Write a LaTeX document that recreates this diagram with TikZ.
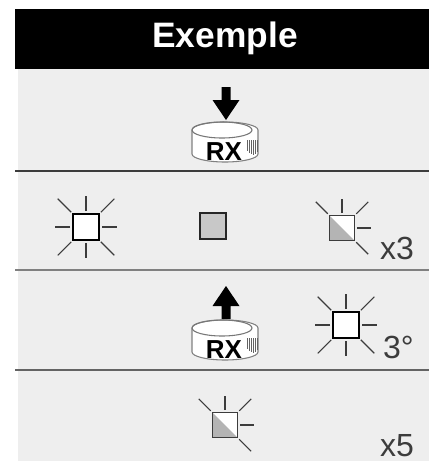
\documentclass[tikz,border=0pt]{standalone}
\usepackage{fontspec}
\setmainfont{Liberation Sans}
\usetikzlibrary{positioning}
\definecolor{rowgray}{HTML}{EEEEEE}
\definecolor{boxgray}{HTML}{C8C8C8}
\definecolor{halfgray}{HTML}{B4B4B4}
\definecolor{inkgray}{HTML}{3C3C3C}
\tikzstyle{every node}=[inner sep=0, minimum size=0, outer sep=0]
\tikzstyle{ray}=[inkgray, line width=.8pt]
\tikzstyle{fullbox}=[rectangle, draw=black, line width=1.3pt, fill=white, minimum size=20pt]
\tikzstyle{greybox}=[rectangle, draw=black!85, line width=1.3pt, fill=boxgray, minimum size=20pt]
\tikzstyle{halfbox}=[rectangle, draw=inkgray, line width=.9pt, minimum size=19pt]
\tikzstyle{counttext}=[anchor=base west, text=inkgray, font=\fontsize{24}{24}\selectfont]
\tikzstyle{rxtext}=[font=\fontsize{19.5}{19.5}\selectfont\bfseries]
\newcommand{\fulllamp}[2]{
  \node[fullbox] (#1) at (#2) {};
  \foreach \ang in {0,90,180,270} \draw[ray] (#1.center) ++(\ang:16) -- ++(\ang:15);
  \foreach \ang in {45,135,225,315} \draw[ray] (#1.center) ++(\ang:21) -- ++(\ang:19);
}
\newcommand{\halflamp}[2]{
  \node[halfbox] (#1) at (#2) {};
  \fill[white] (#1.north west) -- (#1.north east) -- (#1.south east) -- cycle;
  \fill[halfgray] (#1.north west) -- (#1.south west) -- (#1.south east) -- cycle;
  \node[halfbox] at (#2) {};
  \foreach \ang in {0,270} \draw[ray] (#1.center) ++(\ang:15) -- ++(\ang:14);
  \foreach \ang in {45,225,315} \draw[ray] (#1.center) ++(\ang:20) -- ++(\ang:17);
}
\newcommand{\rxdisc}[2]{
  \begin{scope}[shift={(#2)}]
    \draw[gray, line width=.8pt, fill=white] (-33,0) -- (-33,24) arc (180:0:33 and 8) -- (33,0) arc (0:-180:33 and 8);
    \draw[inkgray!70, line width=.8pt] (-33,0) arc (180:0:30 and 8) arc (0:-180:30 and 8);
    \foreach \xs/\ys in {22/21,24/23,26/24,28/25,30/24,32/22}
      \draw[inkgray!80, line width=.6pt] (\xs,10) -- (\xs,\ys);
    \node[rxtext] (#1) at (-1,22) {RX};
  \end{scope}
}
\newcommand{\bigarrow}[3]{
  \begin{scope}[shift={(#2)}, yscale=#3]
    \fill[black] (0,0) -- (-13.5,-20) -- (-4.5,-20) -- (-4.5,-33) -- (4.5,-33) -- (4.5,-20) -- (13.5,-20) -- cycle;
    \coordinate (#1) at (0,0);
  \end{scope}
}
\begin{document}
\begin{tikzpicture}[x=.75pt,y=-.75pt]
\useasboundingbox (0,0) rectangle (433,461);
\fill[rowgray] (18,69) rectangle (429,461);
\fill[black] (15,9) rectangle (429,69);
\node[text=white, font=\fontsize{26.5}{26.5}\selectfont\bfseries] (title) at (225,38) {Exemple};

\draw[inkgray, line width=.9pt] (15,171) -- (429,171);
\draw[gray, line width=1.3pt] (15,270) -- (429,270);
\draw[inkgray!80, line width=.9pt] (15,370) -- (429,370);

\bigarrow{downtip}{226,120}{1}
\rxdisc{rxa}{225,130}

\fulllamp{lampa}{86,227}
\node[greybox] (lampb) at (213,226) {};
\halflamp{lampc}{342,228}
\node[counttext] (counta) at (380,259) {x3};

\bigarrow{uptip}{226,286}{-1}
\rxdisc{rxb}{225,328}
\fulllamp{lampd}{346,325}
\node[counttext] (degree) at (383,358) {3°};

\halflamp{lampe}{225,425}
\node[counttext] (countb) at (380,456) {x5};
\end{tikzpicture}
\end{document}
